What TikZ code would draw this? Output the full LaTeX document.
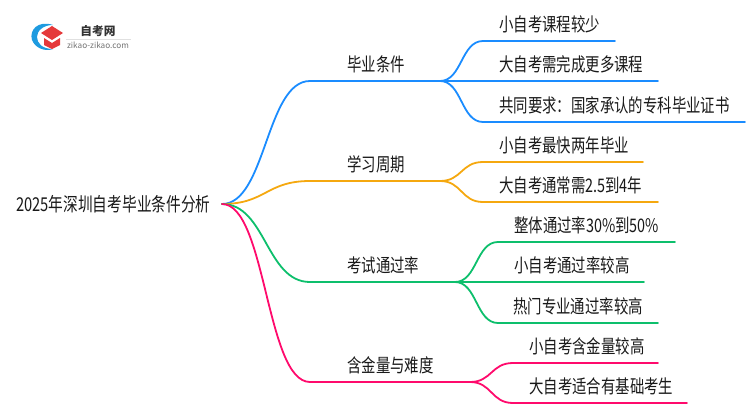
\documentclass[tikz,border=0pt]{standalone}
\usepackage{graphicx}
\usepackage{fontspec}
\setmainfont{Noto Sans CJK SC}
\definecolor{bluebr}{HTML}{1A8CFF}
\definecolor{orangebr}{HTML}{F5A80F}
\definecolor{greenbr}{HTML}{0DBF6C}
\definecolor{pinkbr}{HTML}{FF0A6C}
\definecolor{logoblue}{HTML}{1E9BE0}
\definecolor{logored}{HTML}{E5393B}
\newcommand{\tall}[1]{\scalebox{1}[1.3]{#1}}
\tikzset{
    caption/.style={anchor=west,inner sep=0pt,text=black!90,font=\fontsize{14.4}{16}\selectfont},
    limb/.style={line width=1.8pt,line cap=round},
}
\begin{document}
\begin{tikzpicture}[x=1pt,y=-1pt]
        \useasboundingbox (0,0) rectangle (750,410);
        %% Logo
        \fill[logoblue] (53,25) .. controls (38,20) and (29,30) .. (32,40) .. controls (35,48) and (45,52) .. (53,49) .. controls (42,49) and (37,43) .. (37,37) .. controls (37,31) and (43,25) .. (53,25) -- cycle;
        \fill[logored] (41,33) -- (52,26) -- (63,33) -- (52,40) -- cycle;
        \fill[logored] (44,38) -- (52,43) -- (60,38) -- (60,45) -- (52,49) -- (44,45) -- cycle;
        \node[inner sep=0pt,font=\fontsize{11.7}{13}\selectfont\bfseries,text=black!80] (logoname) at (98,31) {自考网};
        \node[inner sep=0pt,font=\fontsize{8.2}{9}\selectfont,text=black!55] (logourl) at (98,45) {zikao-zikao.com};
        \draw[black!12,line width=0.8pt] (66,39) -- (131,39);
        %% Root
        \node[caption,font=\fontsize{14.7}{16}\selectfont] (root) at (16,204) {\tall{2025年深圳自考毕业条件分析}};
        \coordinate (hub) at (222,204);
        %% Main branches
        \foreach \nm/\col/\y/\xe/\txt in {a/bluebr/81/440/毕业条件,b/orangebr/181/440/学习周期,c/greenbr/282/455/考试通过率,d/pinkbr/382/470/含金量与难度} {
            \coordinate (\nm in) at (310,\y);
            \coordinate (\nm out) at (\xe,\y);
            \draw[limb,\col] (hub) .. controls +(44,0) and +(-44,0) .. (\nm in) -- (\nm out);
            \node[caption] (\nm cap) at (347,\y-16.5) {\tall{\txt}};
        }
        %% Leaves
        \foreach \nm/\up/\col/\xs/\xe/\y/\xt/\txt in {
            a1/a/bluebr/483/615/41/499/小自考课程较少,
            a2/a/bluebr/483/658/81/499/大自考需完成更多课程,
            a3/a/bluebr/483/745/122/499/共同要求：国家承认的专科毕业证书,
            b1/b/orangebr/483/643/162/499/小自考最快两年毕业,
            b2/b/orangebr/483/658/202/499/大自考通常需2.5到4年,
            c1/c/greenbr/498/675/242/514/整体通过率30\%到50\%,
            c2/c/greenbr/498/644/282/514/小自考通过率较高,
            c3/c/greenbr/498/658/323/513/热门专业通过率较高,
            d1/d/pinkbr/513/658/363/529/小自考含金量较高,
            d2/d/pinkbr/513/687/403/529/大自考适合有基础考生} {
            \coordinate (\nm in) at (\xs,\y);
            \coordinate (\nm out) at (\xe,\y);
            \draw[limb,\col] (\up out) .. controls +(22,0) and +(-22,0) .. (\nm in) -- (\nm out);
            \node[caption] (\nm) at (\xt,\y-16.5) {\tall{\txt}};
        }
    \end{tikzpicture}
\end{document}
